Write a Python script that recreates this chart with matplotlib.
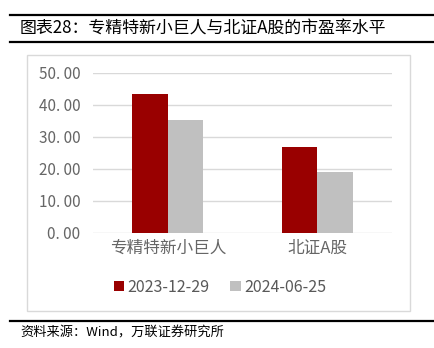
import matplotlib
matplotlib.use("Agg")
from matplotlib import pyplot as plt
from matplotlib.patches import Rectangle
from matplotlib.lines import Line2D
import numpy as np

plt.rcParams['font.family'] = ['Noto Sans CJK SC', 'DejaVu Sans']

# data
categories = ["专精特新小巨人", "北证A股"]
series_names = ["2023-12-29", "2024-06-25"]
pe_2023 = [43.5, 26.7]
pe_2024 = [35.2, 19.1]
colors = ["#990000", "#C0C0C0"]
yticks = [0, 10, 20, 30, 40, 50]

fig = plt.figure(figsize=(4.35, 3.48), dpi=100)

# header / footer rules
fig.add_artist(Line2D([0.023, 1.0], [0.957, 0.957], color='black', lw=1.6))
fig.add_artist(Line2D([0.023, 1.0], [0.878, 0.878], color='black', lw=1.6))
fig.add_artist(Line2D([0.023, 1.0], [0.078, 0.078], color='black', lw=1.6))
fig.text(0.046, 0.917, "图表28：专精特新小巨人与北证A股的市盈率水平",
         fontsize=12.2, va='center', ha='left', color='black')
fig.text(0.046, 0.043, "资料来源：Wind，万联证券研究所",
         fontsize=9.5, va='center', ha='left', color='black', style='italic')

# chart border
fig.add_artist(Rectangle((0.062, 0.106), 0.880, 0.736, transform=fig.transFigure,
                         fill=False, edgecolor='#D9D9D9', lw=1))

ax = fig.add_axes([0.214, 0.331, 0.687, 0.460])
x = np.arange(len(categories))
w = 0.238
ax.bar(x - w / 2, pe_2023, w, color=colors[0], label=series_names[0], zorder=3)
ax.bar(x + w / 2, pe_2024, w, color=colors[1], label=series_names[1], zorder=3)

ax.set_xlim(-0.5, 1.5)
ax.set_ylim(0, 50)
ax.set_yticks(yticks)
ax.set_yticklabels([f"{v:.2f}".replace('.', '. ') for v in yticks])
ax.set_xticks(x)
ax.set_xticklabels(categories)
ax.tick_params(axis='y', length=0, labelsize=11, labelcolor='#666666', pad=9)
ax.tick_params(axis='x', length=0, labelsize=12, labelcolor='#666666', pad=5)
ax.grid(axis='y', color='#D9D9D9', lw=1, zorder=0)
for s in ax.spines.values():
    s.set_visible(False)

fig.legend(loc='center', bbox_to_anchor=(0.506, 0.175), ncol=2, frameon=False,
           fontsize=11.5, handlelength=0.65, handleheight=0.65, handletextpad=0.2,
           columnspacing=1.3, labelcolor='#595959')

fig.savefig("out.png", dpi=100)
